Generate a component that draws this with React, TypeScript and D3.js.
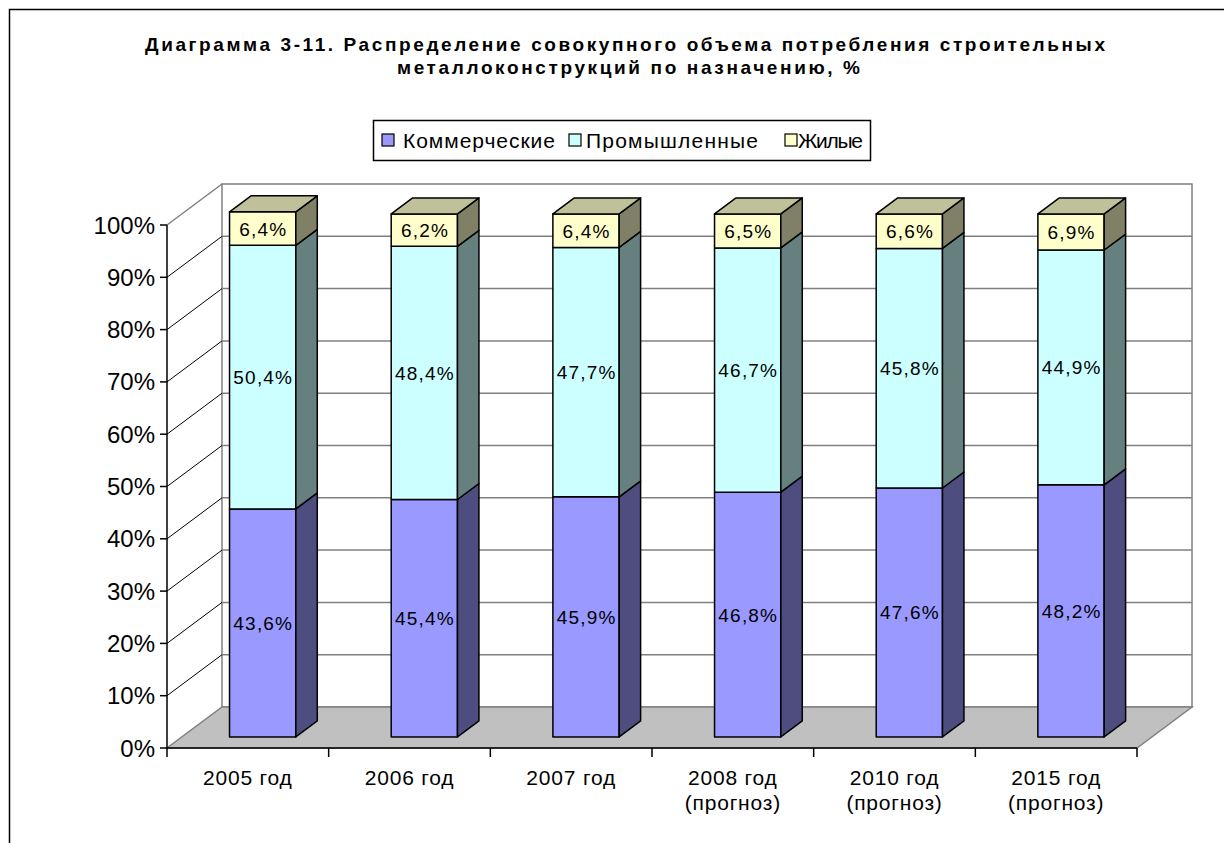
import React, { useEffect, useRef } from "react";
import * as d3 from "d3";

const categories = ["2005 год", "2006 год", "2007 год", "2008 год", "2010 год", "2015 год"];
const subLabels = ["", "", "", "(прогноз)", "(прогноз)", "(прогноз)"];
const seriesNames = ["Коммерческие", "Промышленные", "Жилые"];
const commercial = [43.6, 45.4, 45.9, 46.8, 47.6, 48.2];
const industrial = [50.4, 48.4, 47.7, 46.7, 45.8, 44.9];
const residential = [6.4, 6.2, 6.4, 6.5, 6.6, 6.9];
const yTicks = [0, 10, 20, 30, 40, 50, 60, 70, 80, 90, 100];

const frontColors = ["#9999FF", "#CCFFFF", "#FFFFCC"];
const sideColors = ["#4D4D80", "#668080", "#808066"];
const topColors = ["#7A7ACC", "#A3CCCC", "#C0C09A"];

const FONT = "'Liberation Sans', Arial, sans-serif";

const App = () => {
  const chartRef = useRef(null);

  useEffect(() => {
    const el = chartRef.current;
    d3.select(el).selectAll("*").remove();

    const W = 1224,
      H = 843;
    const plot = { left: 167, right: 1137, top: 225, bottom: 748 };
    // full depth of the 3d box and where the bars sit inside it
    const depth = { dx: 55, dy: -41 };
    const f0 = 0.27,
      f1 = 0.66;

    const svg = d3
      .select(el)
      .append("svg")
      .attr("width", W)
      .attr("height", H)
      .style("position", "absolute")
      .style("left", 0)
      .style("top", 0)
      .style("font-family", FONT);

    svg.append("rect").attr("width", W).attr("height", H).attr("fill", "#fff");

    // outer frame (cut by the picture on right and bottom)
    svg
      .append("rect")
      .attr("x", 9.5)
      .attr("y", 9.5)
      .attr("width", W + 20)
      .attr("height", H + 20)
      .attr("fill", "none")
      .attr("stroke", "#000")
      .attr("stroke-width", 1.5);

    // title, spread out like the original
    const title = svg
      .append("text")
      .attr("font-weight", "bold")
      .attr("font-size", 19)
      .attr("fill", "#000");
    title
      .append("tspan")
      .attr("x", 145)
      .attr("y", 51)
      .attr("textLength", 960)
      .attr("lengthAdjust", "spacing")
      .text("Диаграмма 3-11. Распределение совокупного объема потребления строительных");
    title
      .append("tspan")
      .attr("x", 397)
      .attr("y", 74)
      .attr("textLength", 463)
      .attr("lengthAdjust", "spacing")
      .text("металлоконструкций по назначению, %");

    const x = d3
      .scaleBand()
      .domain(categories)
      .range([plot.left, plot.right])
      .paddingInner(0.59)
      .paddingOuter(0.295);
    const step = x.step();

    const y = d3.scaleLinear().domain([0, 100]).range([plot.bottom, plot.top]);

    const g = svg.append("g");

    // left wall
    g.append("path")
      .attr(
        "d",
        `M${plot.left},${plot.top}L${plot.left + depth.dx},${plot.top + depth.dy}L${plot.left + depth.dx},${
          plot.bottom + depth.dy
        }L${plot.left},${plot.bottom}Z`
      )
      .attr("fill", "#fff");

    // back wall
    g.append("rect")
      .attr("x", plot.left + depth.dx)
      .attr("y", plot.top + depth.dy)
      .attr("width", plot.right - plot.left)
      .attr("height", plot.bottom - plot.top)
      .attr("fill", "#fff")
      .attr("stroke", "#808080")
      .attr("stroke-width", 1.5);

    // gridlines
    yTicks
      .filter((t) => t > 0 && t < 100)
      .forEach((t) => {
        g.append("line")
          .attr("x1", plot.left + depth.dx)
          .attr("x2", plot.right + depth.dx)
          .attr("y1", y(t) + depth.dy)
          .attr("y2", y(t) + depth.dy)
          .attr("stroke", "#808080")
          .attr("stroke-width", 1.5);
        g.append("line")
          .attr("x1", plot.left)
          .attr("x2", plot.left + depth.dx)
          .attr("y1", y(t))
          .attr("y2", y(t) + depth.dy)
          .attr("stroke", "#000")
          .attr("stroke-width", 1);
      });
    g.append("line")
      .attr("x1", plot.left)
      .attr("x2", plot.left + depth.dx)
      .attr("y1", y(100))
      .attr("y2", y(100) + depth.dy)
      .attr("stroke", "#808080")
      .attr("stroke-width", 1.5);

    // floor
    g.append("path")
      .attr(
        "d",
        `M${plot.left},${plot.bottom}L${plot.right},${plot.bottom}L${plot.right + depth.dx},${
          plot.bottom + depth.dy
        }L${plot.left + depth.dx},${plot.bottom + depth.dy}Z`
      )
      .attr("fill", "#C0C0C0")
      .attr("stroke", "#808080")
      .attr("stroke-width", 1.5);

    // bars
    const series = [commercial, industrial, residential];
    const ox = depth.dx * f0,
      oy = depth.dy * f0;
    const bdx = depth.dx * (f1 - f0),
      bdy = depth.dy * (f1 - f0);
    const bw = x.bandwidth();

    categories.forEach((c, i) => {
      let base = 0;
      series.forEach((s, k) => {
        const v = s[i];
        const x0 = x(c) + ox;
        const x1 = x0 + bw;
        const yb = y(base) + oy;
        const yt = y(base + v) + oy;
        const bar = g.append("g");
        bar
          .append("rect")
          .attr("x", x0)
          .attr("y", yt)
          .attr("width", bw)
          .attr("height", yb - yt)
          .attr("fill", frontColors[k])
          .attr("stroke", "#000")
          .attr("stroke-width", 1.5)
          .attr("stroke-linejoin", "round");
        bar
          .append("path")
          .attr("d", `M${x1},${yb}L${x1 + bdx},${yb + bdy}L${x1 + bdx},${yt + bdy}L${x1},${yt}Z`)
          .attr("fill", sideColors[k])
          .attr("stroke", "#000")
          .attr("stroke-width", 1.5)
          .attr("stroke-linejoin", "round");
        if (k === series.length - 1) {
          bar
            .append("path")
            .attr("d", `M${x0},${yt}L${x1},${yt}L${x1 + bdx},${yt + bdy}L${x0 + bdx},${yt + bdy}Z`)
            .attr("fill", topColors[k])
            .attr("stroke", "#000")
            .attr("stroke-width", 1.5)
            .attr("stroke-linejoin", "round");
        }
        bar
          .append("text")
          .attr("x", x0 + bw / 2 + 0.6)
          .attr("y", (yb + yt) / 2 + 7)
          .attr("text-anchor", "middle")
          .attr("font-size", 19)
          .attr("letter-spacing", 1.2)
          .attr("fill", "#000")
          .text(v.toFixed(1).replace(".", ",") + "%");
        base += v;
      });
    });

    // y axis
    const axis = svg.append("g").attr("stroke", "#000").attr("stroke-width", 1.5);
    axis.append("line").attr("x1", plot.left).attr("x2", plot.left).attr("y1", y(100)).attr("y2", y(0));
    yTicks.forEach((t) => {
      axis
        .append("line")
        .attr("x1", plot.left - 7)
        .attr("x2", plot.left)
        .attr("y1", y(t))
        .attr("y2", y(t));
      svg
        .append("text")
        .attr("x", plot.left - 12)
        .attr("y", y(t) + 8.5)
        .attr("text-anchor", "end")
        .attr("font-size", 24)
        .attr("fill", "#000")
        .text(t + "%");
    });

    // x axis
    axis
      .append("line")
      .attr("x1", plot.left)
      .attr("x2", plot.right)
      .attr("y1", plot.bottom)
      .attr("y2", plot.bottom);
    d3.range(categories.length + 1).forEach((j) => {
      const tx = plot.left + j * step;
      axis.append("line").attr("x1", tx).attr("x2", tx).attr("y1", plot.bottom).attr("y2", plot.bottom + 9);
    });
    categories.forEach((c, i) => {
      const cx = x(c) + bw / 2;
      const t = svg
        .append("text")
        .attr("text-anchor", "middle")
        .attr("font-size", 21)
        .attr("letter-spacing", 0.8)
        .attr("fill", "#000");
      t.append("tspan").attr("x", cx).attr("y", 785).text(c);
      if (subLabels[i]) t.append("tspan").attr("x", cx).attr("y", 810).text(subLabels[i]);
    });

    // legend
    const legend = svg.append("g");
    legend
      .append("rect")
      .attr("x", 373.5)
      .attr("y", 120.5)
      .attr("width", 497)
      .attr("height", 40)
      .attr("fill", "#fff")
      .attr("stroke", "#000")
      .attr("stroke-width", 1.5);
    const markerX = [382, 569, 785];
    const textX = [403, 586, 798];
    const textW = [152, 172, 65];
    seriesNames.forEach((n, k) => {
      legend
        .append("rect")
        .attr("x", markerX[k])
        .attr("y", 134)
        .attr("width", 12)
        .attr("height", 12)
        .attr("fill", frontColors[k])
        .attr("stroke", "#000")
        .attr("stroke-width", 1.2);
      legend
        .append("text")
        .attr("x", textX[k])
        .attr("y", 148)
        .attr("font-size", 21)
        .attr("textLength", textW[k])
        .attr("lengthAdjust", "spacing")
        .attr("fill", "#000")
        .text(n);
    });
  }, []);

  return <div ref={chartRef}></div>;
};

export default App;
